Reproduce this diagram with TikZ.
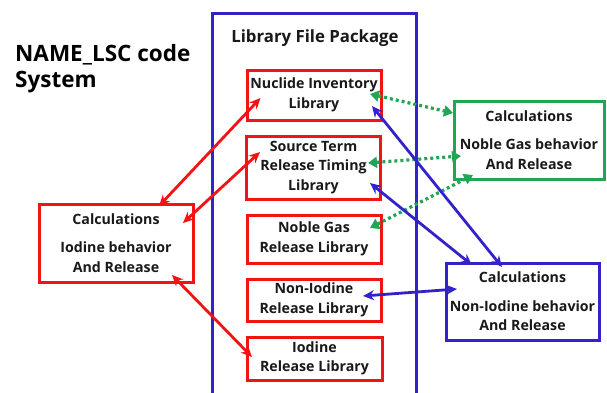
\documentclass[tikz,border=0pt]{standalone}
\usepackage{fontspec}
\setmainfont{Open Sans}[BoldFont={* Bold}]
\usetikzlibrary{arrows.meta,calc}
\definecolor{cred}{HTML}{F01414}
\definecolor{cblue}{HTML}{3322CC}
\definecolor{cgreen}{HTML}{22A555}
\begin{document}
\begin{tikzpicture}[x=1pt,y=-1pt,
  txt/.style={font=\bfseries\fontsize{14.2}{19.5}\selectfont, align=center, text=black!90},
  libbox/.style={txt, draw=cred, line width=3pt, minimum width=134pt, inner sep=0pt},
  calcbox/.style={txt, line width=3pt, inner sep=0pt},
  redarr/.style={draw=cred, line width=2.8pt, {Stealth[length=11pt,width=10pt]}-{Stealth[length=11pt,width=10pt]}},
  bluearr/.style={draw=cblue, line width=2.8pt, {Stealth[length=11pt,width=10pt]}-{Stealth[length=11pt,width=10pt]}},
  greenarr/.style={draw=cgreen, line width=3.2pt, dash pattern=on 3pt off 3pt, {Triangle[length=9pt,width=11pt]}-{Triangle[length=9pt,width=11pt]}}
]
\useasboundingbox (0,0) rectangle (607,392);
\fill[white] (0,0) rectangle (607,392);
% package container
\node[draw=cblue, line width=3pt, minimum width=204pt, minimum height=387pt, inner sep=0pt] (pkg) at (314,206.5) {};
\node[txt, font=\bfseries\fontsize{16.8}{20}\selectfont] (pkgtitle) at (315,38) {Library File Package};
% system title
\node[font=\bfseries\fontsize{22.5}{26}\selectfont, align=left, anchor=north west, inner sep=0pt] (sys) at (15,44.5) {NAME\_LSC code\\System};
% library boxes
\node[libbox, minimum height=50pt] (nuc) at (314,95) {Nuclide Inventory\\Library};
\node[libbox, minimum height=63pt] (src) at (313.5,167.5) {Source Term\\Release Timing\\Library};
\node[libbox, minimum height=48pt] (nob) at (314,239) {Noble Gas\\Release Library};
\node[libbox, minimum height=42pt] (non) at (314,300) {Non-Iodine\\Release Library};
\node[libbox, minimum height=43pt, minimum width=135pt] (iod) at (314.5,358.5) {Iodine\\Release Library};
% calculation boxes
\node[calcbox, draw=cred, minimum width=154pt, minimum height=78pt] (rcalc) at (116,243) {Calculations\\[9pt]Iodine behavior\\And Release};
\node[calcbox, draw=cgreen, minimum width=150pt, minimum height=78pt] (gcalc) at (529,140) {Calculations\\[9pt]Noble Gas behavior\\And Release};
\node[calcbox, draw=cblue, minimum width=153pt, minimum height=77pt] (bcalc) at (522.5,301.5) {Calculations\\[9pt]Non-Iodine behavior\\And Release};
% red connectors
\draw[redarr] ($(rcalc.center)+(43,-37)$) -- ($(nuc.west)+(15,3)$);
\draw[redarr] ($(rcalc.center)+(67,-20)$) -- ($(src.center)+(-53.5,-15.5)$);
\draw[redarr] ($(rcalc.center)+(56,32)$) -- ($(iod.center)+(-62.5,-1.5)$);
% green connectors
\draw[greenarr] ($(nuc.center)+(56,-1)$) -- ($(gcalc.center)+(-76,-27)$);
\draw[greenarr] ($(src.center)+(54.5,-4.5)$) -- ($(gcalc.center)+(-68,16)$);
\draw[greenarr] ($(nob.center)+(56,-11)$) -- ($(gcalc.center)+(-56,35)$);
% blue connectors
\draw[bluearr] ($(nuc.center)+(58,11)$) -- ($(bcalc.center)+(-20.5,-34.5)$);
\draw[bluearr] ($(src.center)+(56.5,15.5)$) -- ($(bcalc.center)+(-50.5,-36.5)$);
\draw[bluearr] ($(non.center)+(49,-4)$) -- ($(bcalc.center)+(-65.5,-12.5)$);
\end{tikzpicture}
\end{document}
